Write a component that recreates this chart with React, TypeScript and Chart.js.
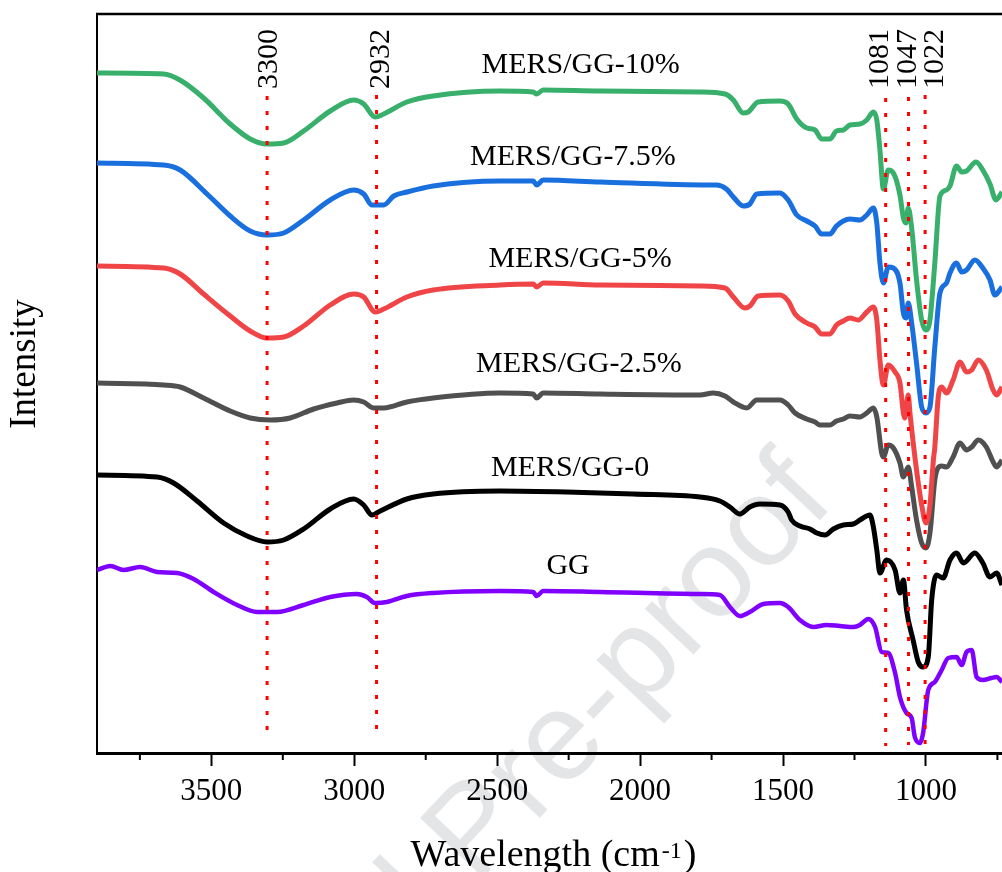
import React, { useEffect, useRef } from 'react';
import { Chart, registerables } from 'chart.js';

Chart.register(...registerables);

const FONT = '"Liberation Serif", "Times New Roman", serif';

// ---- axis ticks (wavenumber, cm-1) ----
const majorTicks = [1000, 1500, 2000, 2500, 3000, 3500];
const minorTicks = [750, 1250, 1750, 2250, 2750, 3250, 3750];

// ---- series names ----
const seriesNames = ['MERS/GG-10%', 'MERS/GG-7.5%', 'MERS/GG-5%', 'MERS/GG-2.5%', 'MERS/GG-0', 'GG'];

// ---- MERS/GG-10% ----
const wn10 = [3900, 3667, 3610, 3527, 3434, 3364, 3305, 3247, 3177, 3084, 3002, 2967, 2927, 2897, 2816, 2724, 2490, 2374, 2362, 2339, 2140, 1791, 1703, 1674, 1639, 1622, 1587, 1511, 1482, 1452, 1417, 1388, 1365, 1336, 1313, 1289, 1266, 1231, 1207, 1184, 1172, 1161, 1149, 1132, 1114, 1091, 1079, 1070, 1062, 1050, 1033, 1015, 1000, 986, 969, 951, 928, 916, 893, 875, 858, 825, 797, 776, 755, 734];
const int10 = [680, 679, 673, 655, 629, 614, 609, 610, 622, 642, 653, 649, 636, 639, 651, 657, 662, 661, 659, 663, 662, 661, 659, 653, 640, 641, 651, 652, 649, 634, 625, 623, 614, 614, 622, 623, 628, 629, 633, 641, 633, 603, 564, 583, 580, 558, 535, 530, 545, 525, 473, 433, 423, 433, 490, 557, 563, 567, 587, 581, 582, 591, 581, 569, 553, 561];

// ---- MERS/GG-7.5% ----
const wn75 = [3900, 3667, 3609, 3515, 3434, 3364, 3305, 3247, 3177, 3084, 3002, 2967, 2938, 2897, 2862, 2816, 2724, 2490, 2374, 2362, 2339, 2140, 1756, 1733, 1698, 1674, 1639, 1616, 1592, 1511, 1482, 1452, 1417, 1388, 1365, 1336, 1313, 1289, 1266, 1231, 1207, 1184, 1172, 1161, 1149, 1132, 1114, 1091, 1079, 1070, 1062, 1050, 1033, 1015, 1000, 986, 969, 951, 928, 916, 893, 875, 858, 829, 801, 776, 759, 734];
const int75 = [590, 588, 583, 559, 537, 522, 518, 520, 533, 553, 563, 559, 548, 548, 557, 561, 567, 572, 572, 568, 573, 571, 568, 568, 564, 556, 547, 549, 559, 560, 553, 538, 532, 527, 519, 519, 527, 532, 534, 533, 538, 545, 530, 490, 470, 486, 485, 470, 440, 435, 450, 430, 390, 346, 340, 346, 406, 460, 470, 480, 490, 481, 483, 493, 485, 473, 458, 466];

// ---- MERS/GG-5% ----
const wn5 = [3900, 3667, 3609, 3527, 3434, 3364, 3305, 3247, 3177, 3084, 3002, 2967, 2927, 2897, 2816, 2724, 2490, 2374, 2362, 2339, 2140, 1791, 1703, 1674, 1633, 1616, 1587, 1511, 1482, 1458, 1417, 1388, 1365, 1336, 1313, 1289, 1266, 1237, 1207, 1184, 1172, 1161, 1149, 1132, 1108, 1091, 1079, 1074, 1062, 1056, 1033, 1015, 1000, 986, 974, 969, 957, 945, 928, 905, 881, 858, 840, 817, 789, 765, 753, 734];
const int5 = [487, 485, 479, 459, 437, 422, 415, 416, 427, 448, 459, 456, 441, 444, 456, 463, 468, 469, 466, 470, 468, 467, 465, 456, 445, 447, 457, 458, 452, 439, 430, 426, 419, 419, 428, 432, 435, 433, 441, 446, 433, 393, 368, 388, 381, 370, 340, 335, 358, 340, 283, 248, 230, 248, 293, 306, 356, 366, 360, 373, 391, 381, 383, 393, 383, 363, 358, 366];

// ---- MERS/GG-2.5% ----
const wn25 = [3900, 3667, 3609, 3527, 3434, 3364, 3294, 3224, 3142, 3060, 3002, 2967, 2932, 2897, 2816, 2724, 2490, 2374, 2362, 2339, 2140, 1791, 1744, 1703, 1674, 1627, 1592, 1511, 1482, 1458, 1417, 1388, 1371, 1336, 1313, 1289, 1266, 1231, 1207, 1184, 1172, 1155, 1149, 1132, 1114, 1091, 1079, 1062, 1050, 1033, 1015, 1000, 986, 969, 958, 945, 928, 905, 881, 858, 840, 817, 789, 765, 753, 734];
const int25 = [370, 368, 366, 355, 342, 335, 333, 335, 344, 350, 353, 351, 345, 345, 351, 355, 360, 359, 355, 360, 359, 358, 360, 357, 351, 345, 353, 353, 348, 340, 334, 331, 328, 328, 332, 334, 337, 336, 340, 345, 336, 300, 296, 308, 305, 290, 276, 286, 266, 233, 210, 205, 220, 273, 285, 287, 286, 296, 310, 303, 306, 313, 306, 291, 286, 293];

// ---- MERS/GG-0 ----
const wn0 = [3900, 3690, 3632, 3550, 3457, 3375, 3305, 3247, 3177, 3084, 3002, 2967, 2938, 2909, 2816, 2724, 2490, 2257, 2024, 1791, 1721, 1686, 1651, 1616, 1581, 1511, 1482, 1470, 1441, 1406, 1382, 1353, 1324, 1289, 1254, 1231, 1196, 1184, 1172, 1161, 1138, 1108, 1091, 1079, 1068, 1045, 1027, 1010, 992, 980, 963, 940, 916, 893, 869, 829, 801, 776, 753, 734];
const int0 = [278, 276, 270, 252, 230, 217, 211, 213, 224, 244, 254, 248, 238, 242, 254, 259, 262, 261, 259, 256, 252, 246, 239, 246, 249, 248, 241, 233, 227, 224, 220, 218, 224, 228, 229, 233, 238, 226, 203, 180, 193, 183, 160, 173, 143, 113, 91, 86, 96, 153, 178, 175, 193, 200, 190, 200, 190, 176, 180, 168];

// ---- GG ----
const wnGG = [3900, 3853, 3807, 3749, 3690, 3620, 3562, 3492, 3410, 3340, 3270, 3177, 3084, 2991, 2956, 2927, 2886, 2816, 2724, 2490, 2374, 2362, 2339, 2140, 1791, 1721, 1686, 1651, 1616, 1569, 1511, 1482, 1441, 1394, 1348, 1301, 1254, 1231, 1202, 1178, 1155, 1132, 1108, 1091, 1068, 1050, 1039, 1021, 1010, 992, 969, 945, 922, 893, 875, 858, 840, 823, 801, 771, 753, 734];
const intGG = [183, 187, 183, 186, 181, 180, 174, 161, 148, 141, 141, 148, 156, 159, 156, 150, 151, 157, 160, 162, 161, 157, 162, 161, 159, 158, 146, 137, 141, 149, 150, 146, 133, 126, 128, 127, 126, 128, 134, 126, 101, 100, 80, 56, 40, 35, 16, 10, 20, 63, 71, 83, 95, 96, 88, 101, 103, 76, 73, 75, 76, 71];

// ---- series label anchors (wavenumber, intensity) ----
const seriesLabelWn = [2208, 2235, 2210, 2214, 2245, 2252];
const seriesLabelInt = [688, 596, 494, 389, 285, 187];

// ---- marked peaks ----
const peakLabels = ['3300', '2932', '1081', '1047', '1022'];
const peakLineWn = [3305, 2922, 1141, 1061, 1003];
const peakLabelWn = [3299, 2907, 1159, 1062, 968];
const peakLineTop = [657, 658, 655, 656, 658];
const peakLineBottom = [18, 18, 7, 8, 8];
const peakLabelInt = 664;

const seriesColors = ['#38b06c', '#1a6fdf', '#f04546', '#505050', '#000000', '#7f00ff'];

export default function App() {
  const ref = useRef<HTMLCanvasElement | null>(null);

  useEffect(() => {
    const canvas = ref.current;
    if (!canvas) return;

    const toPts = (wn: number[], iy: number[]) => wn.map((w, i) => ({ x: w, y: iy[i] }));
    const allWn = [wn10, wn75, wn5, wn25, wn0, wnGG];
    const allInt = [int10, int75, int5, int25, int0, intGG];

    const curveSets: any[] = seriesNames.map((name, i) => ({
      type: 'line',
      label: name,
      data: toPts(allWn[i], allInt[i]),
      borderColor: seriesColors[i],
      backgroundColor: seriesColors[i],
      borderWidth: i === 5 ? 4.5 : 5,
      pointRadius: 0,
      cubicInterpolationMode: 'monotone',
      fill: false,
      order: 1,
    }));

    const peakSets: any[] = peakLineWn.map((w, i) => ({
      type: 'line',
      label: 'peak ' + peakLabels[i],
      data: [
        { x: w, y: peakLineTop[i] },
        { x: w, y: peakLineBottom[i] },
      ],
      borderColor: '#ff0000',
      borderWidth: 3,
      borderDash: [4, 11],
      borderCapStyle: 'butt',
      pointRadius: 0,
      tension: 0,
      fill: false,
      order: 0,
    }));

    const decorPlugin = {
      id: 'decor',
      beforeDraw(chart: any) {
        const { ctx } = chart;
        ctx.save();
        ctx.fillStyle = '#fff';
        ctx.fillRect(0, 0, chart.width, chart.height);
        ctx.fillStyle = '#e4e5e7';
        ctx.font = '126px "Liberation Sans", Arial, sans-serif';
        ctx.translate(811, 479);
        ctx.rotate((-46.7 * Math.PI) / 180);
        ctx.textAlign = 'right';
        ctx.textBaseline = 'middle';
        ctx.fillText('Journal Pre-proof', 0, 0);
        ctx.restore();
      },
      afterDatasetsDraw(chart: any) {
        const { ctx, scales } = chart;
        const xs = scales.x;
        const ys = scales.y;
        ctx.save();
        ctx.fillStyle = '#000';
        ctx.textBaseline = 'middle';
        ctx.textAlign = 'center';
        ctx.font = `30px ${FONT}`;
        seriesNames.forEach((name, i) => {
          ctx.fillText(name, xs.getPixelForValue(seriesLabelWn[i]), ys.getPixelForValue(seriesLabelInt[i]));
        });
        peakLabels.forEach((lab, i) => {
          ctx.save();
          ctx.translate(xs.getPixelForValue(peakLabelWn[i]), ys.getPixelForValue(peakLabelInt));
          ctx.rotate(-Math.PI / 2);
          ctx.textAlign = 'left';
          ctx.textBaseline = 'middle';
          ctx.font = `30px ${FONT}`;
          ctx.fillText(lab, 0, 0);
          ctx.restore();
        });
        ctx.restore();
      },
      afterDraw(chart: any) {
        const { ctx, chartArea, scales } = chart;
        const xs = scales.x;
        ctx.save();
        // top frame
        ctx.strokeStyle = '#000';
        ctx.lineWidth = 2.5;
        ctx.beginPath();
        ctx.moveTo(chartArea.left - 1, chartArea.top);
        ctx.lineTo(chartArea.right, chartArea.top);
        ctx.stroke();
        // minor ticks
        ctx.lineWidth = 2;
        minorTicks.forEach((v) => {
          const p = xs.getPixelForValue(v);
          ctx.beginPath();
          ctx.moveTo(p, xs.top + 1);
          ctx.lineTo(p, xs.top + 7);
          ctx.stroke();
        });
        // x title with superscript
        ctx.fillStyle = '#000';
        ctx.textBaseline = 'alphabetic';
        ctx.textAlign = 'left';
        const t1 = 'Wavelength (cm';
        const t2 = '-1';
        const t3 = ')';
        ctx.font = `38px ${FONT}`;
        const w1 = ctx.measureText(t1).width;
        const w3 = ctx.measureText(t3).width;
        ctx.font = `24px ${FONT}`;
        const w2 = ctx.measureText(t2).width;
        const gap = 2;
        const total = w1 + gap + w2 + gap + w3;
        const cx = (chartArea.left + chartArea.right) / 2 + 4;
        const base = xs.bottom - 6;
        let x0 = cx - total / 2;
        ctx.font = `38px ${FONT}`;
        ctx.fillText(t1, x0, base);
        x0 += w1 + gap;
        ctx.font = `24px ${FONT}`;
        ctx.fillText(t2, x0, base - 8);
        x0 += w2 + gap;
        ctx.font = `38px ${FONT}`;
        ctx.fillText(t3, x0, base);
        // y title
        ctx.save();
        ctx.translate(25, (chartArea.top + chartArea.bottom) / 2 - 19.5);
        ctx.rotate(-Math.PI / 2);
        ctx.textAlign = 'center';
        ctx.textBaseline = 'middle';
        ctx.font = `37px ${FONT}`;
        ctx.fillText('Intensity', 0, 0);
        ctx.restore();
        ctx.restore();
      },
    };

    const chart = new Chart(canvas, {
      type: 'line',
      data: { datasets: [...peakSets, ...curveSets] },
      options: {
        responsive: false,
        animation: false,
        events: [],
        layout: { padding: { top: 14, left: 0, right: 0, bottom: 0 } },
        plugins: {
          legend: { display: false },
          tooltip: { enabled: false },
          title: { display: false },
        },
        scales: {
          x: {
            type: 'linear',
            reverse: true,
            min: 734,
            max: 3900,
            afterBuildTicks: (s: any) => {
              s.ticks = majorTicks.map((v) => ({ value: v }));
            },
            afterFit: (s: any) => {
              s.height = 119;
            },
            grid: {
              display: true,
              drawOnChartArea: false,
              drawTicks: true,
              tickLength: 13,
              tickWidth: 2,
              tickColor: '#000',
            },
            border: { display: true, color: '#000', width: 3 },
            ticks: {
              color: '#000',
              font: { family: FONT, size: 31 },
              padding: 7,
              maxRotation: 0,
              autoSkip: false,
              callback: (v: any) => String(v),
            },
          },
          y: {
            type: 'linear',
            min: 0,
            max: 739,
            afterFit: (s: any) => {
              s.width = 97;
            },
            ticks: { display: false },
            grid: { display: false },
            border: { display: true, color: '#000', width: 2 },
          },
        },
      } as any,
      plugins: [decorPlugin],
    });

    return () => {
      chart.destroy();
    };
  }, []);

  return (
    <div style={{ position: 'absolute', left: 0, top: 0, width: 1002, height: 872, background: '#fff' }}>
      <canvas ref={ref} width={1002} height={872} style={{ display: 'block' }} />
    </div>
  );
}
